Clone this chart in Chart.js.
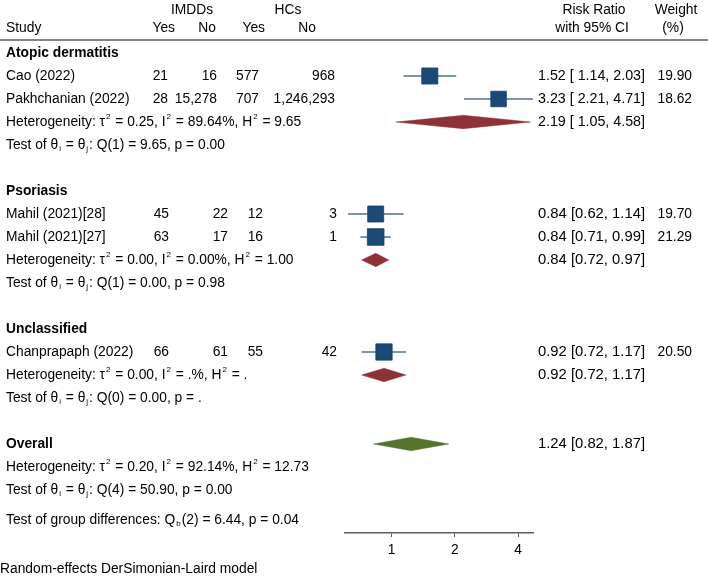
<!DOCTYPE html>
<html>
<head>
<meta charset="utf-8">
<script src="https://cdn.jsdelivr.net/npm/chart.js@4.4.1/dist/chart.umd.min.js"></script>
<style>
  html, body { margin: 0; padding: 0; background: #fff; }
</style>
</head>
<body>
<canvas id="forest" width="708" height="578"></canvas>
<script>
// data
var groups = ['Atopic dermatitis', 'Psoriasis', 'Unclassified'];
var studies = ['Cao (2022)', 'Pakhchanian (2022)', 'Mahil (2021)[28]', 'Mahil (2021)[27]', 'Chanprapaph (2022)'];
var studyGroup = [0, 0, 1, 1, 2];
var imddYes = [21, 28, 45, 63, 66];
var imddNo = [16, 15278, 22, 17, 61];
var hcYes = [577, 707, 12, 16, 55];
var hcNo = [968, 1246293, 3, 1, 42];
var rr = [1.52, 3.23, 0.84, 0.84, 0.92];
var rrLo = [1.14, 2.21, 0.62, 0.71, 0.72];
var rrHi = [2.03, 4.71, 1.14, 0.99, 1.17];
var weight = [19.90, 18.62, 19.70, 21.29, 20.50];

var groupRR = [2.19, 0.84, 0.92];
var groupLo = [1.05, 0.72, 0.72];
var groupHi = [4.58, 0.97, 1.17];
var groupTau2 = ['0.25', '0.00', '0.00'];
var groupI2 = ['89.64%', '0.00%', '.%'];
var groupH2 = ['9.65', '1.00', '.'];
var groupQdf = [1, 1, 0];
var groupQ = ['9.65', '0.00', '0.00'];
var groupP = ['0.00', '0.98', '.'];

var overallRR = 1.24, overallLo = 0.82, overallHi = 1.87;
var overallStats = { tau2: '0.20', i2: '92.14%', h2: '12.73', df: 4, q: '50.90', p: '0.00' };
var groupDiff = { df: 2, q: '6.44', p: '0.04' };

var xTicks = [1, 2, 4];
var axisMin = 0.615, axisMax = 4.71;

// layout
var FAM = '"Liberation Sans", Arial, sans-serif';
var FS = 13.8;
var NAVY = '#1a4a75', CI_LINE = '#48719a', MAROON = '#8f3139', GREEN = '#55752f';

// assign rows
var studyRow = [], groupRow = [], rows = [];
var r = 0;
groups.forEach(function(g, gi) {
  rows.push({ type: 'group', row: r++, gi: gi });
  studies.forEach(function(s, si) {
    if (studyGroup[si] === gi) { studyRow[si] = r; rows.push({ type: 'study', row: r++, si: si }); }
  });
  groupRow[gi] = r;
  rows.push({ type: 'het', row: r++, gi: gi });
  rows.push({ type: 'test', row: r++, gi: gi });
  r++;
});
var overallRow = r;
var rowTop = -1, rowPx = 23, plotTop = 30, plotBottom = 533;
var rowBottom = rowTop + (plotBottom - plotTop) / rowPx;

var datasets = [];
studies.forEach(function(s, i) {
  datasets.push({
    type: 'scatter', showLine: true, data: [{ x: rrLo[i], y: studyRow[i] }, { x: rrHi[i], y: studyRow[i] }],
    borderColor: CI_LINE, borderWidth: 1.5, pointRadius: 0, clip: false, order: 3
  });
});
datasets.push({
  type: 'scatter',
  data: studies.map(function(s, i) { return { x: rr[i], y: studyRow[i] }; }),
  pointStyle: 'rect',
  pointRadius: weight.map(function(w) { return 3.6 * Math.sqrt(w) / Math.SQRT2; }),
  backgroundColor: NAVY, borderColor: '#163f66', borderWidth: 0.8, clip: false, order: 1
});
function diamond(est, lo, hi, row, color) {
  var dh = 0.29;
  return {
    type: 'scatter', showLine: true, fill: 'shape',
    data: [{ x: lo, y: row }, { x: est, y: row - dh }, { x: hi, y: row }, { x: est, y: row + dh }, { x: lo, y: row }],
    borderColor: color, backgroundColor: color, borderWidth: 0.5, pointRadius: 0, tension: 0, clip: false, order: 2
  };
}
groups.forEach(function(g, gi) {
  datasets.push(diamond(groupRR[gi], groupLo[gi], groupHi[gi], groupRow[gi], MAROON));
});
datasets.push(diamond(overallRR, overallLo, overallHi, overallRow, GREEN));

function fmt(v) { return v.toLocaleString('en-US'); }

function drawRich(ctx, parts, x, y) {
  parts.forEach(function(p) {
    var t = p, mode = '';
    if (Array.isArray(p)) { t = p[0]; mode = p[1]; }
    if (mode) {
      ctx.font = '8px ' + FAM;
      var dy = mode === 'sup' ? -5 : 4;
      ctx.fillText(t, x + 1, y + dy);
      x += ctx.measureText(t).width + 2;
      ctx.font = FS + 'px ' + FAM;
    } else {
      ctx.fillText(t, x, y);
      x += ctx.measureText(t).width;
    }
  });
}
function hetParts(t, i, h) {
  return ['Heterogeneity: \u03c4', ['2', 'sup'], ' = ' + t + ', I', ['2', 'sup'], ' = ' + i + ', H', ['2', 'sup'], ' = ' + h];
}
function testParts(df, q, p) {
  return ['Test of \u03b8', ['i', 'sub'], ' = \u03b8', ['j', 'sub'], ': Q(' + df + ') = ' + q + ', p = ' + p];
}
// CI string stretched to fill 538..645
function drawCI(ctx, e, lo, hi, y) {
  var s = e.toFixed(2) + ' [' + (lo >= 1 ? ' ' : '') + lo.toFixed(2) + ', ' + hi.toFixed(2) + ']';
  var w = ctx.measureText(s).width;
  ctx.save();
  ctx.textAlign = 'left';
  ctx.translate(538, y);
  ctx.scale(107 / w, 1);
  ctx.fillText(s, 0, 0);
  ctx.restore();
}

var colRight = {
  imddYes: [168, 169, 169],
  imddNo: [217, 228, 228],
  hcYes: [259, 263, 263],
  hcNo: [335, 337, 337]
};

var tablePlugin = {
  id: 'table',
  afterDraw: function(chart) {
    var ctx = chart.ctx, ys = chart.scales.y;
    ctx.save();
    ctx.fillStyle = '#000';
    ctx.textBaseline = 'middle';
    ctx.font = FS + 'px ' + FAM;
    // header
    ctx.textAlign = 'center';
    ctx.fillText('IMDDs', 192, 10);
    ctx.fillText('HCs', 288, 10);
    ctx.fillText('Risk Ratio', 594, 10);
    ctx.fillText('with 95% CI', 592, 28);
    ctx.fillText('Weight', 676, 10);
    ctx.fillText('(%)', 673, 28);
    ctx.textAlign = 'left';
    ctx.fillText('Study', 6, 28);
    ctx.textAlign = 'right';
    ctx.fillText('Yes', 175, 28);
    ctx.fillText('No', 216, 28);
    ctx.fillText('Yes', 265, 28);
    ctx.fillText('No', 316, 28);
    ctx.strokeStyle = '#5a5a5a';
    ctx.lineWidth = 1.5;
    ctx.beginPath(); ctx.moveTo(0, 40); ctx.lineTo(708, 40); ctx.stroke();

    rows.forEach(function(o) {
      var y = ys.getPixelForValue(o.row);
      ctx.textAlign = 'left';
      if (o.type === 'group') {
        ctx.font = 'bold ' + FS + 'px ' + FAM;
        ctx.fillText(groups[o.gi], 6, y);
        ctx.font = FS + 'px ' + FAM;
      } else if (o.type === 'study') {
        var i = o.si, g = studyGroup[i];
        ctx.fillText(studies[i], 6, y);
        ctx.textAlign = 'right';
        ctx.fillText(fmt(imddYes[i]), colRight.imddYes[g], y);
        ctx.fillText(fmt(imddNo[i]), colRight.imddNo[g], y);
        ctx.fillText(fmt(hcYes[i]), colRight.hcYes[g], y);
        ctx.fillText(fmt(hcNo[i]), colRight.hcNo[g], y);
        ctx.fillText(weight[i].toFixed(2), 692, y);
        drawCI(ctx, rr[i], rrLo[i], rrHi[i], y);
      } else if (o.type === 'het') {
        drawRich(ctx, hetParts(groupTau2[o.gi], groupI2[o.gi], groupH2[o.gi]), 6, y);
        drawCI(ctx, groupRR[o.gi], groupLo[o.gi], groupHi[o.gi], y);
      } else if (o.type === 'test') {
        drawRich(ctx, testParts(groupQdf[o.gi], groupQ[o.gi], groupP[o.gi]), 6, y);
      }
    });
    // overall block
    var yo = ys.getPixelForValue(overallRow);
    ctx.textAlign = 'left';
    ctx.font = 'bold ' + FS + 'px ' + FAM;
    ctx.fillText('Overall', 6, yo);
    ctx.font = FS + 'px ' + FAM;
    drawCI(ctx, overallRR, overallLo, overallHi, yo);
    drawRich(ctx, hetParts(overallStats.tau2, overallStats.i2, overallStats.h2), 6, ys.getPixelForValue(overallRow + 1));
    drawRich(ctx, testParts(overallStats.df, overallStats.q, overallStats.p), 6, ys.getPixelForValue(overallRow + 2));
    drawRich(ctx, ['Test of group differences: Q', ['b', 'sub'], '(' + groupDiff.df + ') = ' + groupDiff.q + ', p = ' + groupDiff.p], 6, ys.getPixelForValue(overallRow + 3.3));
    ctx.fillText('Random-effects DerSimonian-Laird model', 0, 569);
    ctx.restore();
  }
};

new Chart(document.getElementById('forest'), {
  data: { datasets: datasets },
  options: {
    responsive: false,
    animation: false,
    layout: { padding: { left: 345, right: 708 - 533, top: plotTop, bottom: 0 } },
    plugins: { legend: { display: false }, tooltip: { enabled: false } },
    scales: {
      x: {
        type: 'logarithmic', min: axisMin, max: axisMax,
        afterBuildTicks: function(scale) { scale.ticks = xTicks.map(function(v) { return { value: v }; }); },
        afterFit: function(scale) { scale.height = 578 - plotBottom; },
        ticks: { color: '#000', font: { family: FAM, size: FS }, padding: 5, autoSkip: false, maxRotation: 0,
          callback: function(v) { return String(v); } },
        grid: { drawOnChartArea: false, tickLength: 4, color: '#5a5a5a', lineWidth: 1 },
        border: { color: '#5a5a5a', width: 1.5 }
      },
      y: { type: 'linear', display: false, reverse: true, min: rowTop, max: rowBottom }
    }
  },
  plugins: [tablePlugin]
});
</script>
</body>
</html>
